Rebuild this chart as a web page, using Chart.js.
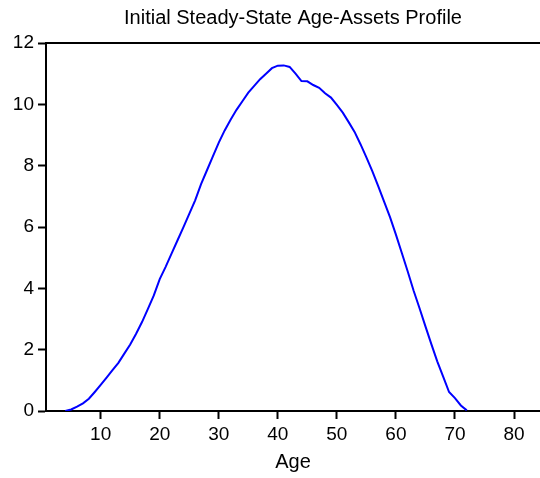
<!DOCTYPE html>
<html>
<head>
<meta charset="utf-8">
<script src="https://cdn.jsdelivr.net/npm/chart.js@4.4.1/dist/chart.umd.min.js"></script>
<style>
  html, body { margin: 0; padding: 0; background: #fff; }
  #wrap { width: 540px; height: 478px; position: relative; }
</style>
</head>
<body>
<div id="wrap"><canvas id="c"></canvas></div>
<script>
/* ── Data ────────────────────────────────────────────────── */
const AGES = [4, 5, 6, 7, 8, 9, 10, 11, 12, 13, 14, 15, 16, 17, 18, 19, 20, 21, 22, 23,
  24, 25, 26, 27, 28, 29, 30, 31, 32, 33, 34, 35, 36, 37, 38, 39, 40, 41, 42, 43,
  44, 45, 46, 47, 48, 49, 50, 51, 52, 53, 54, 55, 56, 57, 58, 59, 60, 61, 62, 63,
  64, 65, 66, 67, 68, 69, 70, 71, 72];
const ASSETS = [0.00, 0.05, 0.14, 0.25, 0.40, 0.62, 0.85, 1.09, 1.33, 1.57, 1.87, 2.17, 2.52, 2.90, 3.33, 3.77, 4.30, 4.70, 5.13, 5.56,
  5.99, 6.43, 6.87, 7.40, 7.85, 8.30, 8.75, 9.15, 9.50, 9.82, 10.10, 10.38, 10.60, 10.82, 11.00, 11.18, 11.26, 11.27, 11.22, 11.00,
  10.76, 10.75, 10.63, 10.54, 10.36, 10.22, 9.98, 9.73, 9.42, 9.10, 8.70, 8.27, 7.82, 7.33, 6.83, 6.32, 5.75, 5.15, 4.55, 3.92,
  3.35, 2.76, 2.18, 1.62, 1.12, 0.62, 0.42, 0.18, 0.02];
const X_TICKS = [10, 20, 30, 40, 50, 60, 70, 80];
const Y_TICKS = [0, 2, 4, 6, 8, 10, 12];

const TITLE  = 'Initial Steady-State Age-Assets Profile';
const XLABEL = 'Age';

Chart.defaults.font.family = "'Liberation Sans', Arial, sans-serif";
Chart.defaults.color = '#000';

const _ticks = list => scale => { scale.ticks = list.map(v => ({ value: v })); };

new Chart(document.getElementById('c'), {
  type: 'line',
  data: {
    datasets: [{
      data: AGES.map((a, i) => ({ x: a, y: ASSETS[i] })),
      borderColor: '#0000ff',
      borderWidth: 2,
      pointRadius: 0,
      tension: 0,
      fill: false,
    }],
  },
  options: {
    responsive: true,
    maintainAspectRatio: false,
    animation: false,
    layout: { padding: { top: 0, right: 0, bottom: 0, left: 0 } },
    plugins: {
      legend: { display: false },
      tooltip: { enabled: false },
      title: { display: false },
    },
    scales: {
      x: {
        type: 'linear', position: 'bottom',
        min: 0.74, max: 84.4,
        afterBuildTicks: _ticks(X_TICKS),
        afterFit: s => { s.height = 67; },
        grid: { display: true, drawOnChartArea: false, drawTicks: true, tickLength: 8, tickWidth: 2, color: '#000' },
        border: { display: true, color: '#000', width: 2 },
        ticks: { color: '#000', font: { size: 19 }, padding: 4, maxRotation: 0 },
        title: { display: true, text: XLABEL, color: '#000', font: { size: 20 }, padding: { top: 0, bottom: 4 } },
      },
      // top frame line; its title sits centred over the plot area
      xTop: {
        type: 'linear', position: 'top',
        min: 0.74, max: 84.4,
        afterFit: s => { s.height = 43; },
        grid: { display: false },
        border: { display: true, color: '#000', width: 2 },
        ticks: { display: false },
        title: { display: true, text: TITLE, color: '#000', font: { size: 20 }, padding: { top: 6, bottom: 0 } },
      },
      y: {
        min: 0, max: 12,
        afterBuildTicks: _ticks(Y_TICKS),
        afterFit: s => { s.width = 46; },
        grid: { display: true, drawOnChartArea: false, drawTicks: true, tickLength: 8, tickWidth: 2, color: '#000' },
        border: { display: true, color: '#000', width: 2 },
        ticks: { color: '#000', font: { size: 19 }, padding: 4 },
      },
    },
  },
});
</script>
</body>
</html>
